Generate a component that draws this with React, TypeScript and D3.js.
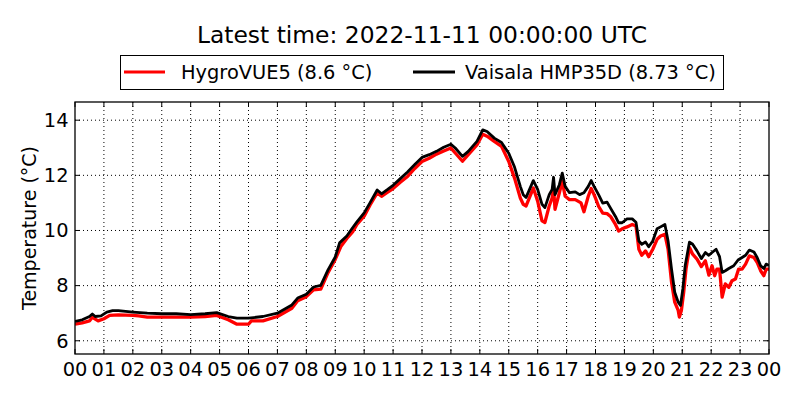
import React from "react";
import * as d3 from "d3";

const hygroTimes = [0, 0.25, 0.5, 0.6, 0.8, 1.0, 1.2, 1.5, 2.0, 2.2, 2.5, 3.0, 3.5, 4.0, 4.5, 4.9, 5.3, 5.6, 6.0, 6.1, 6.5, 7.0, 7.5, 7.7, 8.0, 8.25, 8.5, 8.75, 9.0, 9.2, 9.4, 9.6, 9.75, 10.0, 10.2, 10.45, 10.6, 10.8, 11.0, 11.25, 11.5, 11.75, 12.0, 12.25, 12.5, 12.75, 13.0, 13.15, 13.4, 13.6, 13.9, 14.1, 14.25, 14.5, 14.75, 15.0, 15.2, 15.4, 15.5, 15.6, 15.85, 16.0, 16.15, 16.25, 16.4, 16.5, 16.55, 16.6, 16.75, 16.85, 16.95, 17.1, 17.3, 17.5, 17.6, 17.75, 17.85, 17.95, 18.0, 18.11, 18.25, 18.4, 18.52, 18.69, 18.8, 18.92, 19.09, 19.27, 19.4, 19.5, 19.6, 19.73, 19.84, 19.98, 20.13, 20.25, 20.4, 20.51, 20.63, 20.74, 20.86, 20.9, 20.97, 21.05, 21.13, 21.25, 21.36, 21.51, 21.66, 21.8, 21.92, 22.03, 22.12, 22.2, 22.29, 22.38, 22.49, 22.61, 22.72, 22.84, 22.95, 23.07, 23.19, 23.32, 23.48, 23.59, 23.71, 23.82, 23.9, 24.0];
const hygroValues = [6.6, 6.65, 6.72, 6.85, 6.72, 6.8, 6.92, 6.94, 6.92, 6.9, 6.86, 6.86, 6.86, 6.86, 6.88, 6.92, 6.76, 6.6, 6.6, 6.72, 6.72, 6.88, 7.18, 7.45, 7.6, 7.85, 7.87, 8.47, 8.95, 9.43, 9.71, 9.95, 10.22, 10.52, 10.92, 11.36, 11.24, 11.38, 11.52, 11.75, 11.96, 12.25, 12.5, 12.62, 12.77, 12.88, 12.99, 12.81, 12.51, 12.75, 13.1, 13.49, 13.42, 13.23, 13.05, 12.5, 11.9, 11.18, 10.95, 10.89, 11.54, 11.06, 10.35, 10.29, 10.89, 11.18, 11.54, 10.77, 11.37, 11.78, 11.24, 11.12, 11.12, 11.0, 10.68, 11.24, 11.52, 11.3, 11.17, 10.87, 10.63, 10.61, 10.51, 10.22, 9.98, 10.06, 10.13, 10.22, 10.16, 9.32, 9.1, 9.26, 9.05, 9.32, 9.68, 9.8, 9.86, 9.32, 8.12, 7.4, 7.1, 6.86, 7.1, 7.76, 8.6, 9.38, 9.14, 8.96, 8.69, 8.9, 8.38, 8.72, 8.36, 8.6, 8.6, 7.58, 8.06, 7.94, 8.18, 8.24, 8.6, 8.6, 8.78, 9.08, 9.02, 8.84, 8.54, 8.36, 8.6, 8.6];

const vaisalaTimes = [0, 0.25, 0.5, 0.6, 0.7, 0.9, 1.1, 1.3, 1.5, 2.0, 2.5, 3.0, 3.5, 4.0, 4.5, 4.9, 5.3, 5.6, 6.0, 6.5, 7.0, 7.5, 7.7, 8.0, 8.25, 8.5, 8.75, 9.0, 9.15, 9.4, 9.6, 9.75, 10.0, 10.2, 10.45, 10.6, 10.8, 11.0, 11.25, 11.5, 11.75, 12.0, 12.25, 12.5, 12.75, 13.0, 13.15, 13.4, 13.6, 13.9, 14.1, 14.25, 14.5, 14.75, 15.0, 15.2, 15.4, 15.5, 15.6, 15.85, 16.0, 16.15, 16.25, 16.4, 16.5, 16.55, 16.6, 16.75, 16.85, 16.95, 17.1, 17.3, 17.45, 17.6, 17.75, 17.85, 17.95, 18.11, 18.25, 18.4, 18.52, 18.69, 18.8, 18.92, 19.09, 19.27, 19.4, 19.5, 19.6, 19.73, 19.84, 19.98, 20.13, 20.25, 20.4, 20.51, 20.63, 20.74, 20.86, 20.94, 21.02, 21.1, 21.25, 21.36, 21.51, 21.66, 21.8, 21.92, 22.03, 22.17, 22.29, 22.38, 22.49, 22.61, 22.78, 22.93, 23.07, 23.19, 23.32, 23.48, 23.59, 23.71, 23.82, 23.9, 24.0];
const vaisalaValues = [6.7, 6.76, 6.88, 6.97, 6.88, 6.9, 7.04, 7.09, 7.09, 7.04, 7.0, 6.98, 6.98, 6.95, 6.98, 7.02, 6.88, 6.82, 6.82, 6.88, 7.0, 7.3, 7.55, 7.69, 7.95, 8.01, 8.57, 9.04, 9.55, 9.8, 10.1, 10.31, 10.64, 11.0, 11.47, 11.33, 11.48, 11.64, 11.88, 12.12, 12.39, 12.65, 12.75, 12.87, 13.02, 13.13, 12.99, 12.69, 12.87, 13.23, 13.65, 13.59, 13.35, 13.19, 12.8, 12.3, 11.6, 11.3, 11.2, 11.81, 11.49, 10.95, 10.83, 11.3, 11.49, 11.93, 11.3, 11.66, 12.08, 11.6, 11.37, 11.4, 11.3, 11.37, 11.6, 11.81, 11.6, 11.29, 10.99, 11.03, 10.81, 10.51, 10.28, 10.28, 10.42, 10.42, 10.3, 9.62, 9.5, 9.58, 9.41, 9.62, 10.06, 10.13, 10.22, 9.62, 8.6, 7.76, 7.4, 7.28, 7.88, 8.72, 9.58, 9.5, 9.26, 8.98, 9.2, 9.1, 9.2, 9.32, 9.05, 8.48, 8.54, 8.62, 8.72, 8.93, 9.02, 9.1, 9.29, 9.22, 9.02, 8.72, 8.62, 8.78, 8.73];

const hourTicks = d3.range(0, 25);
const hourLabels = hourTicks.map((h) => String(h % 24).padStart(2, "0"));
const tempTicks = [6, 8, 10, 12, 14];
const titleText = "Latest time: 2022-11-11 00:00:00 UTC";
const seriesNames = ["HygroVUE5 (8.6 °C)", "Vaisala HMP35D (8.73 °C)"];
const seriesColors = ["#ff0000", "#000000"];
const yLabel = "Temperature (°C)";

const W = 800;
const H = 400;
const left = 75;
const right = 769;
const top = 102;
const bottom = 354;
const FONT = "'DejaVu Sans', sans-serif";

export default function App() {
  const x = d3.scaleLinear().domain([0, 24]).range([left, right]);
  const y = d3.scaleLinear().domain([5.52, 14.66]).range([bottom, top]);
  const line = d3
    .line<[number, number]>()
    .x((d) => x(d[0]))
    .y((d) => y(d[1]));
  const hygro = hygroTimes.map((t, i) => [t, hygroValues[i]] as [number, number]);
  const vais = vaisalaTimes.map((t, i) => [t, vaisalaValues[i]] as [number, number]);
  const tl = 5;

  return (
    <svg
      width={W}
      height={H}
      style={{ position: "absolute", left: 0, top: 0, background: "#fff" }}
      fontFamily={FONT}
    >
      <rect x={0} y={0} width={W} height={H} fill="#fff" />
      <text x={(left + right) / 2} y={43} fontSize={23.4} textAnchor="middle" fill="#000">
        {titleText}
      </text>
      {/* legend */}
      <rect x={120.5} y={55.5} width={603} height={34} fill="#fff" stroke="#000" strokeWidth={1} />
      <line x1={124} x2={165} y1={72} y2={72} stroke={seriesColors[0]} strokeWidth={3} />
      <text x={181} y={79} fontSize={19.4} fill="#000">{seriesNames[0]}</text>
      <line x1={413} x2={455} y1={72} y2={72} stroke={seriesColors[1]} strokeWidth={3} />
      <text x={465} y={79} fontSize={19.4} fill="#000">{seriesNames[1]}</text>

      <clipPath id="plotclip">
        <rect x={left} y={top} width={right - left} height={bottom - top} />
      </clipPath>
      {/* grid */}
      <g stroke="#000" strokeWidth={1} strokeDasharray="1,3">
        {hourTicks.slice(1, -1).map((h) => (
          <line key={"gx" + h} x1={x(h)} x2={x(h)} y1={top} y2={bottom} />
        ))}
        {tempTicks.map((t) => (
          <line key={"gy" + t} x1={left} x2={right} y1={y(t)} y2={y(t)} />
        ))}
      </g>
      {/* data */}
      <g clipPath="url(#plotclip)" fill="none" strokeLinejoin="round">
        <path d={line(hygro) || ""} stroke={seriesColors[0]} strokeWidth={3.3} />
        <path d={line(vais) || ""} stroke={seriesColors[1]} strokeWidth={2.8} />
      </g>
      {/* ticks */}
      <g stroke="#000" strokeWidth={1}>
        {hourTicks.map((h) => (
          <g key={"tx" + h}>
            <line x1={x(h)} x2={x(h)} y1={bottom} y2={bottom - tl} />
            <line x1={x(h)} x2={x(h)} y1={top} y2={top + tl} />
          </g>
        ))}
        {tempTicks.map((t) => (
          <g key={"ty" + t}>
            <line x1={left} x2={left + tl} y1={y(t)} y2={y(t)} />
            <line x1={right} x2={right - tl} y1={y(t)} y2={y(t)} />
          </g>
        ))}
      </g>
      <rect x={left} y={top} width={right - left} height={bottom - top} fill="none" stroke="#000" strokeWidth={1.3} />
      {/* tick labels */}
      <g fontSize={19.4} fill="#000">
        {hourTicks.map((h, i) => (
          <text key={"lx" + h} x={x(h)} y={375.5} textAnchor="middle">
            {hourLabels[i]}
          </text>
        ))}
        {tempTicks.map((t) => (
          <text key={"ly" + t} x={68.5} y={y(t)} dy="0.35em" textAnchor="end">
            {t}
          </text>
        ))}
      </g>
      <text
        transform={`translate(36, ${(top + bottom) / 2}) rotate(-90)`}
        textAnchor="middle"
        fontSize={19}
        fill="#000"
      >
        {yLabel}
      </text>
    </svg>
  );
}
